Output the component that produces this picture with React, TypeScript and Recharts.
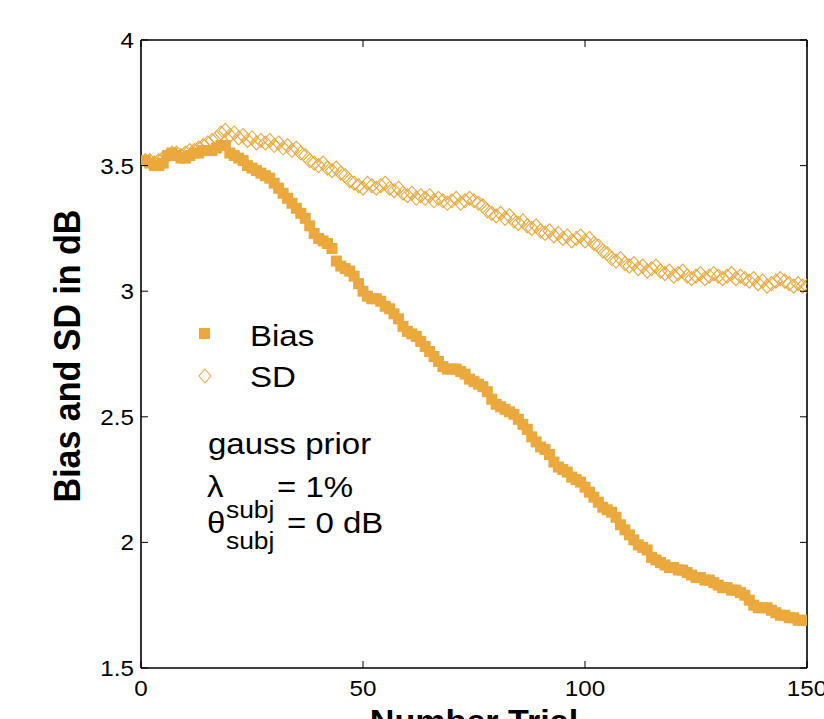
import React from 'react'
import { ScatterChart, Scatter, XAxis, YAxis } from 'recharts'

// values, trial 1..150
const biasValues = [
  3.52, 3.51, 3.5, 3.5, 3.51, 3.54, 3.55, 3.54, 3.53, 3.53,
  3.54, 3.55, 3.55, 3.56, 3.56, 3.56, 3.57, 3.58, 3.58, 3.55,
  3.54, 3.53, 3.52, 3.5, 3.49, 3.48, 3.47, 3.46, 3.45, 3.43,
  3.41, 3.39, 3.37, 3.35, 3.33, 3.31, 3.29, 3.26, 3.23, 3.21,
  3.2, 3.19, 3.17, 3.12, 3.1, 3.09, 3.08, 3.06, 3.03, 3.0,
  2.98, 2.97, 2.97, 2.96, 2.94, 2.93, 2.91, 2.89, 2.86, 2.84,
  2.83, 2.82, 2.8, 2.78, 2.76, 2.74, 2.72, 2.7, 2.69, 2.69,
  2.69, 2.68, 2.67, 2.65, 2.64, 2.63, 2.62, 2.6, 2.57, 2.55,
  2.54, 2.53, 2.52, 2.51, 2.49, 2.47, 2.45, 2.42, 2.4, 2.38,
  2.37, 2.35, 2.32, 2.3, 2.29, 2.28, 2.26, 2.25, 2.24, 2.22,
  2.2, 2.18, 2.16, 2.14, 2.13, 2.12, 2.1, 2.07, 2.05, 2.03,
  2.01, 1.99, 1.98, 1.97, 1.94, 1.93, 1.92, 1.91, 1.9, 1.9,
  1.89, 1.89, 1.88, 1.87, 1.86, 1.86, 1.85, 1.85, 1.84, 1.83,
  1.82, 1.82, 1.81, 1.81, 1.8, 1.79, 1.77, 1.75, 1.74, 1.74,
  1.74, 1.73, 1.72, 1.71, 1.71, 1.7, 1.7, 1.69, 1.69, 1.69,
]

const sdValues = [
  3.52, 3.52, 3.51, 3.52, 3.53, 3.54, 3.55, 3.55, 3.54, 3.55,
  3.56, 3.56, 3.57, 3.58, 3.59, 3.6, 3.61, 3.63, 3.64, 3.62,
  3.63, 3.61, 3.62, 3.6, 3.61, 3.59, 3.6, 3.59, 3.6, 3.58,
  3.59, 3.57, 3.58, 3.56, 3.57, 3.55, 3.54, 3.52, 3.51, 3.5,
  3.51, 3.49, 3.48, 3.49, 3.47, 3.46, 3.44, 3.43, 3.42, 3.41,
  3.43, 3.42, 3.41, 3.42, 3.43, 3.41, 3.4, 3.41, 3.39, 3.38,
  3.39, 3.37, 3.38, 3.37, 3.38, 3.36, 3.37, 3.36, 3.35, 3.36,
  3.37, 3.35, 3.36, 3.37, 3.36, 3.35, 3.34, 3.32, 3.31, 3.3,
  3.31, 3.29, 3.3, 3.28, 3.27, 3.28, 3.26, 3.25, 3.26, 3.24,
  3.23, 3.24, 3.22, 3.23, 3.21, 3.22, 3.2, 3.21, 3.22, 3.2,
  3.21, 3.19, 3.18, 3.16, 3.15, 3.13, 3.12, 3.13, 3.11, 3.1,
  3.11, 3.09, 3.1, 3.08, 3.09, 3.1, 3.08, 3.07, 3.08, 3.06,
  3.07, 3.08, 3.06, 3.05, 3.06, 3.07, 3.05, 3.06, 3.07, 3.06,
  3.05, 3.06, 3.07, 3.05, 3.06, 3.05, 3.04, 3.05, 3.03, 3.04,
  3.02, 3.03, 3.04, 3.05, 3.04, 3.03, 3.02, 3.03, 3.02, 3.02,
]

const xTicks = [0, 50, 100, 150]
const yTicks = [1.5, 2, 2.5, 3, 3.5, 4]

const ORANGE = '#EBA93D'
const FONT = '"Liberation Sans", Arial, Helvetica, sans-serif'
const SX = 1.1 // the reference text is a little wider than plain Arial

const biasPts = biasValues.map((v, i) => ({ x: i + 1, y: v }))
const sdPts = sdValues.map((v, i) => ({ x: i + 1, y: v }))

function Square(props: any) {
  const { cx, cy } = props
  if (cx == null || cy == null) return null
  return <rect x={cx - 5.5} y={cy - 5.5} width={11} height={11} fill={ORANGE} />
}

function Diamond(props: any) {
  const { cx, cy } = props
  if (cx == null || cy == null) return null
  return (
    <polygon
      points={`${cx},${cy - 7} ${cx + 6.5},${cy} ${cx},${cy + 7} ${cx - 6.5},${cy}`}
      fill="none"
      stroke={ORANGE}
      strokeWidth={1.1}
    />
  )
}

function Txt({ x, y, size, bold, anchor, children }: any) {
  return (
    <text
      transform={`translate(${x},${y}) scale(${SX},1)`}
      fontSize={size}
      fontWeight={bold ? 'bold' : 'normal'}
      fontFamily={FONT}
      textAnchor={anchor ?? 'start'}
      fill="#000"
    >
      {children}
    </text>
  )
}

// MATLAB style: ticks point into the plot box
const BottomTick = (p: any) => (
  <g>
    <line x1={p.x} x2={p.x} y1={p.y} y2={p.y - 7} stroke="#000" strokeWidth={1} />
    <Txt x={p.x} y={p.y + 28} size={22} anchor="middle">{p.payload.value}</Txt>
  </g>
)

const TopTick = (p: any) => (
  <line x1={p.x} x2={p.x} y1={p.y} y2={p.y + 7} stroke="#000" strokeWidth={1} />
)

const LeftTick = (p: any) => (
  <g>
    <line x1={p.x} x2={p.x + 7} y1={p.y} y2={p.y} stroke="#000" strokeWidth={1} />
    <Txt x={p.x - 7} y={p.y + 8} size={22} anchor="end">{p.payload.value}</Txt>
  </g>
)

const RightTick = (p: any) => (
  <line x1={p.x} x2={p.x - 7} y1={p.y} y2={p.y} stroke="#000" strokeWidth={1} />
)

const axisLine = { stroke: '#000', strokeWidth: 1.6 }

export default function App() {
  return (
    <div style={{ position: 'absolute', left: 0, top: 0, width: 824, height: 719, background: '#fff', overflow: 'hidden' }}>
      <ScatterChart width={824} height={719} margin={{ top: 39, right: 16, bottom: 50, left: 140 }}>
        <XAxis
          xAxisId="b"
          type="number"
          dataKey="x"
          domain={[0, 150]}
          ticks={xTicks}
          allowDataOverflow
          height={1}
          tickSize={0}
          tickMargin={0}
          tick={BottomTick}
          tickLine={false}
          axisLine={axisLine}
        />
        <XAxis
          xAxisId="t"
          orientation="top"
          type="number"
          dataKey="x"
          domain={[0, 150]}
          ticks={xTicks}
          allowDataOverflow
          height={1}
          tickSize={0}
          tickMargin={0}
          tick={TopTick}
          tickLine={false}
          axisLine={axisLine}
        />
        <YAxis
          yAxisId="l"
          type="number"
          dataKey="y"
          domain={[1.5, 4]}
          ticks={yTicks}
          allowDataOverflow
          width={1}
          tickSize={0}
          tickMargin={0}
          tick={LeftTick}
          tickLine={false}
          axisLine={axisLine}
        />
        <YAxis
          yAxisId="r"
          orientation="right"
          type="number"
          dataKey="y"
          domain={[1.5, 4]}
          ticks={yTicks}
          allowDataOverflow
          width={1}
          tickSize={0}
          tickMargin={0}
          tick={RightTick}
          tickLine={false}
          axisLine={axisLine}
        />
        <Scatter name="Bias" data={biasPts} xAxisId="b" yAxisId="l" shape={Square} isAnimationActive={false} />
        <Scatter name="SD" data={sdPts} xAxisId="t" yAxisId="r" shape={Diamond} isAnimationActive={false} />
      </ScatterChart>

      <svg width={824} height={719} style={{ position: 'absolute', left: 0, top: 0, pointerEvents: 'none' }}>
        {/* axis titles; the x title is cut by the bottom edge as in the reference */}
        <text
          transform={`translate(80,356) scale(${SX},1) rotate(-90)`}
          fontSize={34}
          fontWeight="bold"
          fontFamily={FONT}
          textAnchor="middle"
          fill="#000"
        >
          Bias and SD in dB
        </text>
        <Txt x={474} y={732} size={31} bold anchor="middle">Number Trial</Txt>

        {/* legend */}
        <rect x={199} y={328} width={11} height={11} fill={ORANGE} />
        <polygon points="205,369 211,376 205,383 199,376" fill="none" stroke={ORANGE} strokeWidth={1.1} />
        <Txt x={250} y={346} size={30}>Bias</Txt>
        <Txt x={250} y={387} size={30}>SD</Txt>

        {/* annotation */}
        <Txt x={208} y={454} size={30}>gauss prior</Txt>
        <Txt x={207} y={497} size={30}>λ</Txt>
        <Txt x={226} y={518} size={24}>subj</Txt>
        <Txt x={277} y={497} size={30}>= 1%</Txt>
        <Txt x={207} y={533} size={30}>θ</Txt>
        <Txt x={226} y={549} size={24}>subj</Txt>
        <Txt x={287} y={533} size={30}>= 0 dB</Txt>
      </svg>
    </div>
  )
}
